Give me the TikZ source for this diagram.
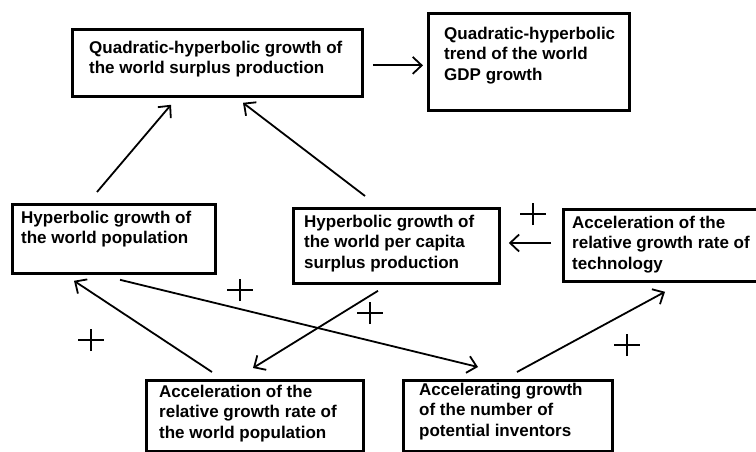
\documentclass[tikz,border=0pt]{standalone}
\usepackage{fontspec}
\setmainfont{Liberation Sans}
\usetikzlibrary{arrows.meta}
\begin{document}
\begin{tikzpicture}[x=1pt,y=-1pt,
  boxst/.style={draw,line width=2.8pt,rectangle,anchor=north west,inner sep=0pt},
  txt/.style={anchor=north west,align=left,inner sep=0pt,font=\bfseries\fontsize{17}{20.5}\selectfont},
  arr/.style={line width=1.8pt,-{Straight Barb[length=9pt,width=17pt,line width=1.8pt]}},
  plusst/.style={line width=2.3pt}]
\useasboundingbox (0,0) rectangle (756,452);
\clip (0,0) rectangle (756,452);
\fill[white] (0,0) rectangle (756,452);
% boxes
\node[boxst,minimum width=290pt,minimum height=67pt] (qs) at (71,28) {};
\node[boxst,minimum width=201pt,minimum height=97pt] (gdp) at (427,12) {};
\node[boxst,minimum width=203pt,minimum height=69pt] (pop) at (11,203) {};
\node[boxst,minimum width=206pt,minimum height=75pt] (pc) at (292,207) {};
\node[boxst,minimum width=205pt,minimum height=72pt] (tech) at (562,208) {};
\node[boxst,minimum width=217pt,minimum height=71pt] (ap) at (145,379) {};
\node[boxst,minimum width=209pt,minimum height=71pt] (inv) at (402,379) {};
% texts
\node[txt] (tqs) at (89,40.6) {Quadratic-hyperbolic growth of\\the world surplus production};
\node[txt] (tgdp) at (444,26.6) {Quadratic-hyperbolic\\trend of the world\\GDP growth};
\node[txt] (tpop) at (21,210.6) {Hyperbolic growth of\\the world population};
\node[txt] (tpc) at (304,214.6) {Hyperbolic growth of\\the world per capita\\surplus production};
\node[txt] (ttech) at (572,215.6) {Acceleration of the\\relative growth rate of\\technology};
\node[txt] (tap) at (159,384.6) {Acceleration of the\\relative growth rate of\\the world population};
\node[txt] (tinv) at (419,382.6) {Accelerating growth\\of the number of\\potential inventors};
% connectors
\draw[arr] ([shift={(9,2.5)}]qs.east) -- ([shift={(-4,3.5)}]gdp.west);
\draw[arr] ([shift={(86,-11)}]pop.north west) -- ([shift={(100,7)}]qs.south west);
\draw[arr] ([shift={(73,-11)}]pc.north west) -- ([shift={(172,5)}]qs.south west);
\draw[arr] ([shift={(-11,35)}]tech.north west) -- ([shift={(8,36)}]pc.north east);
\draw[arr] ([shift={(109,5)}]pop.south west) -- ([shift={(76,-12)}]inv.north west);
\draw[arr] ([shift={(86,6)}]pc.south west) -- ([shift={(108,-11)}]ap.north west);
\draw[arr] ([shift={(67,-7)}]ap.north west) -- ([shift={(63,6)}]pop.south west);
\draw[arr] ([shift={(115,-7)}]inv.north west) -- ([shift={(103,9)}]tech.south west);
% plus signs
\foreach \n/\px/\py in {p1/533/214, p2/240/290, p3/370/313, p4/91/340, p5/627/345} {
  \coordinate (\n) at (\px,\py);
  \draw[plusst] ([xshift=-13pt]\n) -- ([xshift=13pt]\n);
  \draw[plusst] ([yshift=-11pt]\n) -- ([yshift=11pt]\n);
}
\end{tikzpicture}
\end{document}
